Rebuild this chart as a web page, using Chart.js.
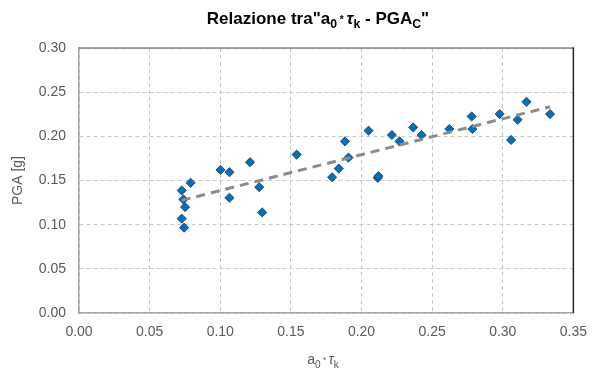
<!DOCTYPE html>
<html>
<head>
<meta charset="utf-8">
<script src="https://cdn.jsdelivr.net/npm/chart.js@4"></script>
<style>
  html, body { margin: 0; padding: 0; background: #fff; }
  #wrap { width: 598px; height: 376px; }
</style>
</head>
<body>
<div id="wrap"><canvas id="myChart" width="598" height="376"></canvas></div>
<script>
// a0 * Tk  (x)  vs  PGA [g]  (y)
const a0Tk = [0.0727, 0.0790, 0.0739, 0.0751, 0.0727, 0.0744, 0.1002, 0.1065, 0.1065, 0.1211,
              0.1276, 0.1297, 0.1541, 0.1792, 0.1839, 0.1883, 0.1908, 0.2050, 0.2115, 0.2120,
              0.2215, 0.2269, 0.2366, 0.2425, 0.2622, 0.2780, 0.2785, 0.2978, 0.3059, 0.3105,
              0.3168, 0.3335];
const pga  = [0.1387, 0.1474, 0.1286, 0.1199, 0.1068, 0.0966, 0.1620, 0.1594, 0.1305, 0.1707,
              0.1425, 0.1139, 0.1793, 0.1537, 0.1635, 0.1943, 0.1759, 0.2064, 0.1530, 0.1550,
              0.2015, 0.1943, 0.2101, 0.2015, 0.2083, 0.2225, 0.2083, 0.2252, 0.1959, 0.2188,
              0.2391, 0.2252];

// linear trend line end points
const trendX = [0.0727, 0.3335];
const trendY = [0.1275, 0.2335];

const xTicks = [0, 0.05, 0.10, 0.15, 0.20, 0.25, 0.30, 0.35];
const yTicks = [0, 0.05, 0.10, 0.15, 0.20, 0.25, 0.30];

const FONT = '"Liberation Sans", Arial, sans-serif';

const points = a0Tk.map((x, i) => ({x: x, y: pga[i]}));
const trend = trendX.map((x, i) => ({x: x, y: trendY[i]}));

// draws a piece of text made of normal / subscript / small segments
function drawRich(ctx, parts, cx, baseline, size, weight) {
  const fontOf = p => {
    const s = p.sub ? size * 0.72 : (p.small ? size * 0.6 : size);
    return (p.italic ? 'italic ' : '') + weight + ' ' + s + 'px ' + FONT;
  };
  let total = 0;
  parts.forEach(p => { ctx.font = fontOf(p); total += ctx.measureText(p.t).width; });
  let x = cx - total / 2;
  ctx.textBaseline = 'alphabetic';
  ctx.textAlign = 'left';
  parts.forEach(p => {
    ctx.font = fontOf(p);
    const dy = p.sub ? size * 0.25 : (p.small ? -size * 0.05 : 0);
    ctx.fillText(p.t, x, baseline + dy);
    x += ctx.measureText(p.t).width;
  });
}

const richText = {
  id: 'richText',
  afterDraw(chart) {
    const ctx = chart.ctx;
    const a = chart.chartArea;
    ctx.save();
    // plot border: top and right
    ctx.lineWidth = 1.5;
    ctx.strokeStyle = '#7f7f7f';
    ctx.beginPath(); ctx.moveTo(a.left, a.top); ctx.lineTo(a.right, a.top); ctx.stroke();
    ctx.strokeStyle = '#262626';
    ctx.beginPath(); ctx.moveTo(a.right, a.top - 0.75); ctx.lineTo(a.right, a.bottom); ctx.stroke();

    ctx.fillStyle = '#000';
    drawRich(ctx, [
      {t: 'Relazione tra"a'}, {t: '0', sub: true}, {t: ' * ', small: true},
      {t: 'τ', italic: true}, {t: 'k', sub: true}, {t: ' - PGA'}, {t: 'C', sub: true}, {t: '"'}
    ], 318, 24, 17, 'bold');

    ctx.fillStyle = '#595959';
    drawRich(ctx, [
      {t: 'a'}, {t: '0', sub: true}, {t: ' * ', small: true},
      {t: 'τ', italic: true}, {t: 'k', sub: true}
    ], 323, 364, 14, 'normal');
    ctx.restore();
  }
};

const config = {
  type: 'scatter',
  data: {
    datasets: [{
      label: 'trend',
      type: 'line',
      data: trend,
      order: 0,
      borderColor: '#8c8c8c',
      borderWidth: 3,
      borderDash: [9, 6],
      pointRadius: 0,
      fill: false
    }, {
      label: 'PGA',
      data: points,
      order: 1,
      pointStyle: 'rectRot',
      pointRadius: 4.6,
      backgroundColor: '#0070c0',
      borderColor: '#1f3550',
      borderWidth: 0.8
    }]
  },
  options: {
    responsive: false,
    animation: false,
    layout: {padding: {top: 48, right: 17, left: 0, bottom: 0}},
    plugins: {legend: {display: false}, tooltip: {enabled: false}, title: {display: false}},
    scales: {
      x: {
        type: 'linear', min: 0, max: 0.35,
        afterBuildTicks: s => { s.ticks = xTicks.map(v => ({value: v})); },
        afterFit: s => { s.height = 63; },
        ticks: {
          color: '#595959', padding: 11, maxRotation: 0,
          font: {family: FONT, size: 14},
          callback: v => v.toFixed(2)
        },
        grid: {color: '#c8c8c8', drawTicks: false, lineWidth: 1},
        border: {display: true, color: '#a6a6a6', width: 1.5, dash: [4, 3]}
      },
      y: {
        type: 'linear', min: 0, max: 0.30,
        afterBuildTicks: s => { s.ticks = yTicks.map(v => ({value: v})); },
        afterFit: s => { s.width = 79; },
        ticks: {
          color: '#595959', padding: 13,
          font: {family: FONT, size: 14},
          callback: v => v.toFixed(2)
        },
        title: {
          display: true, text: 'PGA [g]', color: '#595959',
          font: {family: FONT, size: 14}, padding: {top: 10, bottom: 0}
        },
        grid: {color: '#c8c8c8', drawTicks: false, lineWidth: 1},
        border: {display: true, color: '#a6a6a6', width: 1.5, dash: [4, 3]}
      }
    }
  },
  plugins: [richText]
};

const myChart = new Chart(document.getElementById('myChart'), config);
</script>
</body>
</html>
